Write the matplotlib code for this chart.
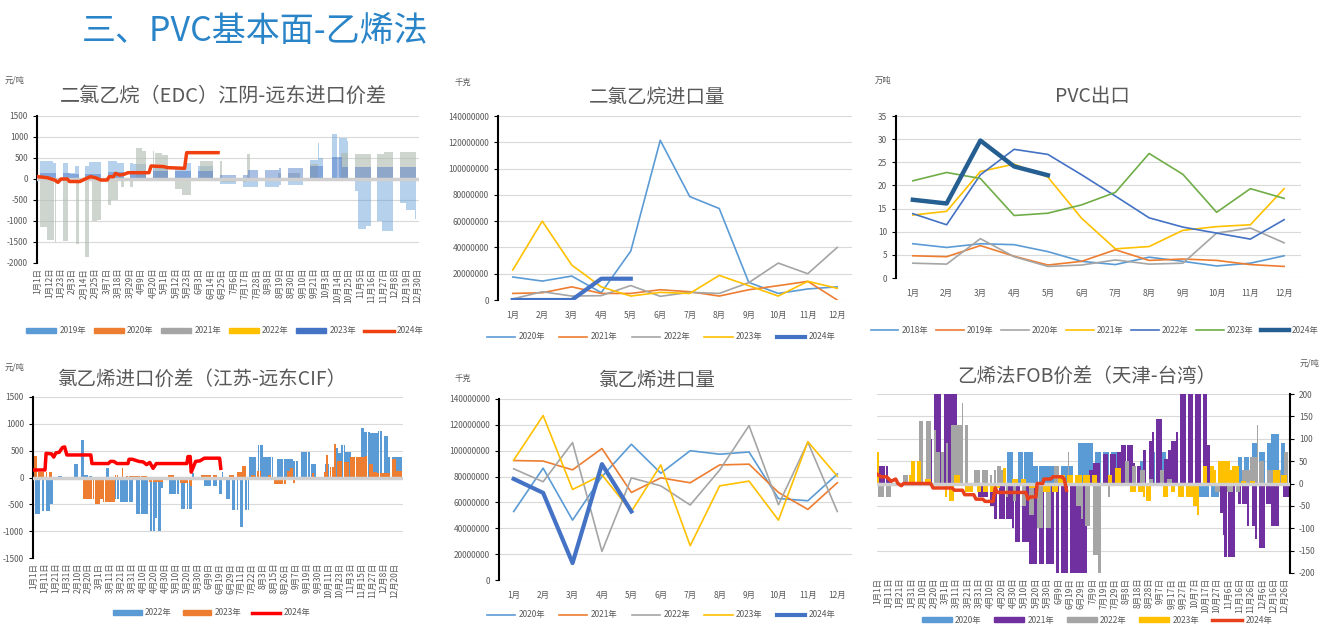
import numpy as np
import matplotlib.pyplot as plt
from matplotlib.patches import Patch
from matplotlib.lines import Line2D
from matplotlib.ticker import FuncFormatter

plt.rcParams['font.family'] = ['Noto Sans CJK SC', 'DejaVu Sans']
plt.rcParams['axes.unicode_minus'] = False

W, H = 1321, 631
GRAY_TXT = '#595959'
months = [f'{m}月' for m in range(1, 13)]

# ---------------- 数据 ----------------
# 二氯乙烷（EDC）江阴-远东进口价差, 日度 (起始日, 结束日, 值)
edc_labels = ['1月1日', '1月12日', '1月23日', '2月3日', '2月14日', '2月25日', '3月7日', '3月18日',
              '3月29日', '4月9日', '4月20日', '5月1日', '5月12日', '5月23日', '6月3日', '6月14日',
              '6月25日', '7月6日', '7月17日', '7月28日', '8月8日', '8月19日', '8月30日', '9月10日',
              '9月21日', '10月3日', '10月14日', '10月25日', '11月5日', '11月16日', '11月27日',
              '12月8日', '12月19日', '12月30日']
edc_2019 = [(0, 14, 420), (15, 28, 380), (29, 35, 150), (36, 48, 300), (49, 60, 400), (61, 75, 420),
            (76, 90, 380), (91, 110, 350), (111, 130, 300), (131, 140, 250), (141, 150, 380),
            (151, 172, 300), (173, 193, -120), (194, 195, -320), (196, 230, -180), (231, 253, -150),
            (254, 267, 450), (268, 268, 860), (269, 272, 500), (278, 285, 1080), (288, 295, 980),
            (296, 300, 900), (301, 305, -290), (306, 313, -1200), (314, 320, -1130), (321, 328, -1000),
            (329, 339, -1250), (341, 351, -580), (352, 360, -750), (361, 363, -950)]
edc_2021 = [(2, 8, -1150), (9, 15, -1450), (17, 22, -1500), (23, 28, -1480), (37, 44, -1550),
            (45, 48, -1850), (52, 56, -1000), (57, 62, -980), (64, 69, -620), (70, 76, -500),
            (80, 90, -200), (94, 99, 730), (100, 110, 660), (112, 118, 610), (119, 126, 570),
            (130, 137, -250), (138, 146, -380), (155, 175, 420), (176, 199, -80), (200, 202, 600),
            (230, 250, 150), (256, 267, 350), (290, 300, 620), (301, 330, 600), (331, 363, 650)]
edc_2023 = [(0, 30, 150), (31, 60, 120), (61, 90, 160), (91, 142, 180), (143, 172, 200),
            (173, 200, 100), (201, 230, 220), (231, 255, 250), (256, 272, 300), (278, 290, 520),
            (291, 363, 280)]
edc_2024_day = [0, 9, 16, 19, 22, 28, 30, 40, 45, 50, 55, 60, 66, 68, 72, 74, 78, 82, 86, 106, 108,
                120, 124, 140, 142, 172]
edc_2024_val = [55, 30, -25, -80, 0, 0, -60, -60, 0, 55, 30, -25, -25, 55, 55, 135, 95, 110, 150,
                150, 310, 295, 270, 254, 627, 627]

# 二氯乙烷进口量 (千克)
edc_imp_2020 = [17500000, 14400000, 18200000, 5600000, 37200000, 121500000, 78700000, 69600000,
                13400000, 5000000, 8400000, 10000000]
edc_imp_2021 = [5000000, 5500000, 10000000, 5000000, 5000000, 7800000, 6300000, 3000000, 7800000,
                10900000, 14200000, 0]
edc_imp_2022 = [800000, 6300000, 3000000, 3300000, 11000000, 2800000, 5800000, 5000000, 13200000,
                28100000, 20000000, 40000000]
edc_imp_2023 = [22800000, 60000000, 26600000, 10000000, 3000000, 5800000, 5000000, 18700000,
                10900000, 3000000, 14200000, 8900000]
edc_imp_2024 = [0, 0, 0, 16200000, 16200000]

# PVC出口 (万吨)
pvc_2018 = [7.4, 6.6, 7.4, 7.2, 5.7, 3.6, 2.9, 4.5, 3.6, 2.6, 3.2, 4.8]
pvc_2019 = [4.8, 4.6, 7.0, 4.7, 2.8, 3.6, 6.1, 3.8, 4.1, 3.8, 2.9, 2.5]
pvc_2020 = [3.2, 3.0, 8.5, 4.6, 2.5, 2.8, 3.9, 3.0, 3.2, 9.7, 10.8, 7.6]
pvc_2021 = [13.6, 14.4, 23.0, 24.6, 21.8, 12.9, 6.3, 6.8, 10.3, 11.1, 11.5, 19.3]
pvc_2022 = [13.9, 11.5, 22.3, 27.8, 26.7, 22.3, 17.7, 13.0, 11.0, 9.7, 8.4, 12.6]
pvc_2023 = [21.0, 22.8, 21.5, 13.5, 14.0, 15.8, 18.5, 26.9, 22.4, 14.2, 19.3, 17.2]
pvc_2024 = [16.9, 16.1, 29.7, 24.1, 22.2]

# 氯乙烯进口价差（江苏-远东CIF）, 按数据序号 (起始, 结束, 值)
vcm_labels = ['1月1日', '1月11日', '1月21日', '1月31日', '2月10日', '2月20日', '3月1日', '3月11日',
              '3月21日', '3月31日', '4月10日', '4月20日', '4月30日', '5月10日', '5月20日', '5月30日',
              '6月9日', '6月19日', '6月29日', '7月11日', '7月22日', '8月3日', '8月15日', '8月26日',
              '9月7日', '9月19日', '9月30日', '10月11日', '10月23日', '11月3日', '11月15日',
              '11月27日', '12月8日', '12月20日']
vcm_2022 = [(1, 5, -680), (8, 14, -620), (15, 17, -500), (22, 25, 30), (37, 40, 250), (43, 45, 700),
            (46, 49, 50), (51, 53, 30), (66, 68, 170), (74, 77, -400), (79, 90, -450), (94, 104, -680),
            (107, 110, -1000), (111, 112, -750), (114, 116, -1000), (117, 118, -200), (124, 132, -300),
            (135, 138, -580), (141, 144, -580), (145, 146, 80), (149, 152, -50), (156, 167, -150),
            (170, 172, -300), (173, 174, 100), (176, 179, -400), (182, 186, -600), (189, 191, -920),
            (194, 196, -600), (197, 203, 380), (206, 209, 600), (210, 218, 380), (223, 237, 350),
            (238, 241, 300), (245, 252, 480), (254, 258, 250), (267, 270, 250), (275, 278, 550),
            (279, 281, 450), (282, 284, 600), (285, 290, 470), (292, 298, 380), (300, 302, 920),
            (303, 307, 850), (308, 315, 830), (316, 318, 870), (321, 324, 780), (325, 338, 380)]
vcm_2023 = [(0, 2, 400), (4, 11, 100), (14, 16, 100), (35, 37, -50), (45, 54, -400), (56, 60, -500),
            (61, 63, -400), (64, 74, -450), (75, 76, 50), (81, 81, 180), (85, 103, 20), (106, 118, -80),
            (123, 128, 50), (134, 142, -100), (143, 144, -150), (152, 167, 40), (179, 183, 50),
            (186, 190, 100), (191, 194, 220), (195, 196, -50), (199, 202, 50), (205, 207, 130),
            (215, 217, 40), (220, 230, -130), (232, 234, 120), (235, 237, 170), (238, 239, -100),
            (255, 256, 80), (266, 267, 100), (268, 269, 420), (272, 274, 200), (275, 276, 620),
            (278, 282, 300), (284, 288, 280), (290, 303, 380), (304, 305, 400), (307, 310, 250),
            (311, 314, 100), (315, 327, 80), (328, 331, 350), (332, 338, 130)]
vcm_2024_idx = [0, 10, 11, 16, 18, 20, 23, 26, 28, 30, 52, 53, 68, 70, 73, 76, 78, 86, 87, 90, 96,
                100, 103, 106, 109, 112, 140, 141, 143, 144, 146, 148, 152, 156, 170, 171]
vcm_2024_val = [140, 140, 450, 440, 380, 460, 470, 560, 570, 420, 420, 260, 260, 300, 300, 260, 260,
                260, 340, 340, 300, 290, 240, 280, 170, 260, 260, 390, 390, 100, 200, 300, 310, 360,
                360, 170]

# 氯乙烯进口量 (千克)
vcm_imp_2020 = [53000000, 86500000, 46300000, 80000000, 105000000, 82600000, 100000000, 97300000,
                99000000, 63000000, 61300000, 82000000]
vcm_imp_2021 = [92400000, 92000000, 85200000, 101700000, 67700000, 79000000, 75200000, 89000000,
                89600000, 67700000, 54600000, 75200000]
vcm_imp_2022 = [86000000, 76000000, 106300000, 22100000, 79000000, 72800000, 58000000, 85000000,
                119400000, 58200000, 106600000, 53000000]
vcm_imp_2023 = [92700000, 127200000, 70000000, 81300000, 53000000, 89000000, 26500000, 72800000,
                76500000, 46300000, 107000000, 80300000]
vcm_imp_2024 = [78200000, 67400000, 13100000, 89600000, 53000000]

# 乙烯法FOB价差（天津-台湾）, 日度 (起始日, 结束日, 值)
fob_labels = ['1月1日', '1月11日', '1月21日', '1月31日', '2月10日', '2月20日', '3月1日', '3月11日',
              '3月21日', '3月31日', '4月10日', '4月20日', '4月30日', '5月10日', '5月20日', '5月30日',
              '6月9日', '6月19日', '6月29日', '7月9日', '7月19日', '7月29日', '8月8日', '8月18日',
              '8月28日', '9月7日', '9月17日', '9月27日', '10月7日', '10月17日', '10月27日', '11月6日',
              '11月16日', '11月26日', '12月6日', '12月16日', '12月26日']
fob_2020 = [(1, 5, 25), (115, 119, 70), (125, 128, 70), (130, 137, 70), (138, 141, 40), (143, 149, 40),
            (150, 155, 40), (156, 160, 40), (163, 172, 40), (178, 184, 90), (185, 190, 90),
            (193, 197, 70), (200, 204, 70), (207, 213, 70), (216, 219, 60), (222, 228, 30),
            (232, 235, 50), (242, 245, 70), (251, 254, 70), (262, 265, 20), (281, 292, -30),
            (295, 301, -30), (311, 315, 20), (319, 322, 60), (324, 328, 60), (331, 335, 90),
            (338, 342, 70), (345, 347, 90), (348, 354, 110), (357, 360, 90)]
fob_2021 = [(2, 6, 40), (8, 9, 40), (10, 12, 10), (48, 48, 100), (50, 56, 210), (59, 64, 210),
            (65, 70, 210), (89, 92, -30), (93, 97, -30), (100, 102, -50), (103, 105, -80),
            (108, 112, -80), (114, 118, -80), (119, 120, -100), (122, 125, -130), (128, 133, -130),
            (134, 140, -180), (143, 147, -180), (149, 155, -180), (158, 160, -200), (163, 168, -200),
            (171, 177, -210), (178, 185, -210), (187, 190, 30), (191, 196, 45), (200, 203, 65),
            (206, 210, 65), (212, 215, 70), (216, 219, 85), (221, 225, 85), (226, 227, 45),
            (230, 232, 40), (235, 237, 75), (240, 242, 95), (243, 244, 115), (247, 251, 145),
            (254, 256, 55), (257, 259, 75), (260, 263, 95), (264, 265, 115), (268, 272, 210),
            (275, 278, 210), (281, 285, 210), (288, 291, 210), (292, 293, 85), (303, 305, -65),
            (306, 306, -115), (307, 308, -165), (310, 315, -165), (319, 321, -45), (323, 326, -45),
            (327, 328, -95), (331, 333, -95), (334, 335, -125), (338, 342, -145), (344, 347, -45),
            (348, 350, -95), (351, 354, -95), (359, 363, -30)]
fob_2022 = [(1, 5, -30), (8, 11, -30), (23, 26, 20), (37, 40, 140), (43, 47, 140), (50, 51, 120),
            (52, 55, 70), (57, 58, 70), (61, 62, 90), (65, 70, 130), (71, 74, 130), (75, 75, 180),
            (78, 79, 130), (86, 90, 30), (93, 97, 30), (100, 101, 20), (103, 104, 30), (106, 109, 40),
            (110, 113, 30), (114, 115, -30), (120, 122, -40), (128, 131, -50), (134, 138, -70),
            (141, 146, -100), (149, 153, -100), (156, 160, 40), (169, 169, 70), (176, 179, -50),
            (180, 181, -80), (184, 187, -95), (191, 194, -160), (195, 197, -200), (204, 205, -30),
            (219, 222, 50), (225, 228, 40), (232, 236, 30), (240, 243, 10), (250, 253, 30),
            (256, 260, 10), (299, 302, -20), (309, 314, -20), (317, 320, -20), (323, 329, 30),
            (330, 335, 60), (336, 336, 130), (338, 341, 50), (345, 349, 30), (353, 356, 30),
            (360, 362, 70)]
fob_2023 = [(0, 1, 70), (28, 29, 20), (30, 33, 50), (35, 38, 50), (42, 47, 10), (60, 61, -30),
            (64, 67, -40), (68, 72, 20), (78, 84, -20), (88, 91, -20), (94, 97, -20), (100, 103, -20),
            (105, 108, -10), (111, 113, 35), (119, 124, 10), (127, 131, 10), (134, 139, -10),
            (147, 152, -20), (155, 159, -20), (160, 165, 20), (168, 172, 20), (175, 180, 20),
            (182, 187, 20), (190, 193, 20), (197, 198, -5), (204, 207, 20), (210, 215, 35),
            (219, 221, -5), (224, 228, -20), (231, 234, -20), (235, 236, -30), (238, 241, -40),
            (247, 248, -5), (253, 256, -30), (260, 262, -20), (266, 270, -30), (273, 278, -30),
            (279, 282, -50), (283, 284, -70), (288, 291, 40), (294, 297, 40), (298, 299, 30),
            (301, 306, 50), (307, 311, 50), (312, 313, 30), (314, 319, 40), (322, 325, 5),
            (330, 333, 5), (350, 355, 30), (357, 361, 20)]
fob_2024_day = [0, 3, 8, 12, 16, 18, 21, 23, 47, 49, 66, 68, 75, 77, 85, 87, 93, 95, 102, 104, 106,
                131, 133, 135, 140, 141, 146, 147, 153, 155, 163, 165, 167]
fob_2024_val = [20, 15, 15, 5, 10, 0, -5, 0, 0, -10, -10, -15, -15, -25, -25, -35, -35, -40, -40,
                -10, -20, -20, -35, -30, -30, 0, 0, 10, 10, 15, 15, 10, -15]


# ---------------- 工具 ----------------
def box(x0, y0, x1, y1):
    return [x0 / W, 1 - y1 / H, (x1 - x0) / W, (y1 - y0) / H]


def fxy(x, y):
    return (x / W, 1 - y / H)


def expand(runs, n):
    arr = np.full(n, np.nan)
    for a, b, v in runs:
        arr[a:b + 1] = v
    return arr


def base_style(ax, side='left'):
    ax.grid(axis='y', color='#D9D9D9', lw=0.8)
    ax.set_axisbelow(True)
    for s in ['top', 'right', 'bottom', 'left']:
        ax.spines[s].set_visible(False)
    ax.spines[side].set_visible(True)
    ax.spines[side].set_color('black')
    ax.spines[side].set_linewidth(1.5)
    ax.tick_params(axis='both', labelsize=6, colors=GRAY_TXT, length=0)
    ax.tick_params(axis='y', length=3, color='black', direction='out')
    if side == 'right':
        ax.yaxis.tick_right()


def add_legend(handles, labels, pos, hlen, cspace):
    fig.legend(handles, labels, loc='center', bbox_to_anchor=fxy(*pos), ncol=len(labels),
               frameon=False, fontsize=6, handlelength=hlen, handleheight=0.6,
               columnspacing=cspace, handletextpad=0.4, labelcolor=GRAY_TXT)


fig = plt.figure(figsize=(W / 100, H / 100), dpi=100)
fig.text(*fxy(82, 31), '三、PVC基本面-乙烯法', fontsize=24.5, color='#2A84C8', va='center', ha='left')

c19, c20, c21, c22, c23 = '#5B9BD5', '#ED7D31', '#A5A5A5', '#FFC000', '#4472C4'

# ---------- 图1 ----------
ax1 = fig.add_axes(box(37, 116, 419, 263))
base_style(ax1)
days = np.arange(364)
ax1.bar(days, expand(edc_2019, 364), width=0.7, color=c19, alpha=0.45, lw=0)
ax1.bar(days, expand(edc_2021, 364), width=0.7, color='#AEB8AE', alpha=0.6, lw=0)
ax1.bar(days, expand(edc_2023, 364), width=0.7, color=c23, alpha=0.45, lw=0)
ax1.axhline(0, color='#D0D0D0', lw=2.5, zorder=3)
ax1.plot(edc_2024_day, edc_2024_val, color='#F0400F', lw=2.5, zorder=4)
ax1.set_ylim(-2000, 1500)
ax1.set_yticks(range(-2000, 1501, 500))
ax1.set_xlim(-1, 364)
ax1.set_xticks(range(0, 364, 11))
ax1.set_xticklabels(edc_labels, rotation=90, fontsize=6)
fig.text(*fxy(5, 80), '元/吨', fontsize=6, color=GRAY_TXT, va='center')
fig.text(*fxy(223, 96), '二氯乙烷（EDC）江阴-远东进口价差', fontsize=14.5, color=GRAY_TXT,
         ha='center', va='center')
add_legend([Patch(color=c19), Patch(color=c20), Patch(color=c21), Patch(color=c22), Patch(color=c23),
            Line2D([], [], color='#F0400F', lw=2.5)],
           ['2019年', '2020年', '2021年', '2022年', '2023年', '2024年'], (225, 331), 3.6, 0.9)


# ---------- 折线图 ----------
def line_panel(rect, series, labels, colors, widths, ylim, ystep, title, tpos, unit, upos, lpos,
               big, hlen, cspace):
    ax = fig.add_axes(box(*rect))
    base_style(ax)
    for s, c, lw in zip(series, colors, widths):
        ax.plot(range(len(s)), s, color=c, lw=lw)
    ax.set_xlim(-0.5, 11.5)
    ax.set_xticks(range(12))
    ax.set_xticklabels(months)
    ax.set_ylim(0, ylim)
    ax.set_yticks(np.arange(0, ylim + ystep / 2, ystep))
    if big:
        ax.yaxis.set_major_formatter(FuncFormatter(lambda v, p: f'{int(v)}'))
    ax.tick_params(axis='x', pad=8)
    fig.text(*fxy(*upos), unit, fontsize=6, color=GRAY_TXT, va='center')
    fig.text(*fxy(*tpos), title, fontsize=14, color=GRAY_TXT, ha='center', va='center')
    add_legend([Line2D([], [], color=c, lw=lw) for c, lw in zip(colors, widths)], labels, lpos,
               hlen, cspace)
    return ax


line_panel((498, 116, 852, 300),
           [edc_imp_2020, edc_imp_2021, edc_imp_2022, edc_imp_2023, edc_imp_2024],
           ['2020年', '2021年', '2022年', '2023年', '2024年'],
           [c19, c20, c21, c22, c23], [1.2, 1.2, 1.2, 1.2, 3],
           140000000, 20000000, '二氯乙烷进口量', (657, 97), '千克', (455, 82), (661, 337), True,
           3.4, 1.7)

line_panel((896, 116, 1301, 278),
           [pvc_2018, pvc_2019, pvc_2020, pvc_2021, pvc_2022, pvc_2023, pvc_2024],
           ['2018年', '2019年', '2020年', '2021年', '2022年', '2023年', '2024年'],
           [c19, c20, c21, c22, c23, '#70AD47', '#255E91'], [1.2] * 6 + [3.2],
           35, 5, 'PVC出口', (1092, 97), '万吨', (875, 80), (1095, 330), False, 3.3, 0.9)

line_panel((499, 399, 852, 580),
           [vcm_imp_2020, vcm_imp_2021, vcm_imp_2022, vcm_imp_2023, vcm_imp_2024],
           ['2020年', '2021年', '2022年', '2023年', '2024年'],
           [c19, c20, c21, c22, c23], [1.2, 1.2, 1.2, 1.2, 3],
           140000000, 20000000, '氯乙烯进口量', (657, 381), '千克', (455, 378), (661, 615), True,
           3.4, 1.7)

# ---------- 图4 ----------
ax4 = fig.add_axes(box(33, 397, 403, 558))
base_style(ax4)
idx = np.arange(339)
ax4.bar(idx, expand(vcm_2022, 339), width=0.9, color=c19, lw=0)
ax4.bar(idx, expand(vcm_2023, 339), width=0.9, color=c20, lw=0)
ax4.axhline(0, color='#D0D0D0', lw=2.5, zorder=3)
ax4.plot(vcm_2024_idx, vcm_2024_val, color='#FF0000', lw=2.5, zorder=4)
ax4.set_ylim(-1500, 1500)
ax4.set_yticks(range(-1500, 1501, 500))
ax4.set_xlim(-1, 338)
ax4.set_xticks(range(0, 331, 10))
ax4.set_xticklabels(vcm_labels, rotation=90, fontsize=6)
fig.text(*fxy(5, 367), '元/吨', fontsize=6, color=GRAY_TXT, va='center')
fig.text(*fxy(203, 379), '氯乙烯进口价差（江苏-远东CIF）', fontsize=14, color=GRAY_TXT,
         ha='center', va='center')
add_legend([Patch(color=c19), Patch(color=c20), Line2D([], [], color='#FF0000', lw=2.5)],
           ['2022年', '2023年', '2024年'], (212, 613), 3.4, 1.3)

# ---------- 图6 ----------
ax6 = fig.add_axes(box(877, 394, 1290, 573))
base_style(ax6, side='right')
d6 = np.arange(365)
ax6.bar(d6, expand(fob_2020, 365), width=1.0, color=c19, lw=0)
ax6.bar(d6, expand(fob_2021, 365), width=1.0, color='#7030A0', lw=0)
ax6.bar(d6, expand(fob_2022, 365), width=1.0, color=c21, lw=0)
ax6.bar(d6, expand(fob_2023, 365), width=1.0, color=c22, lw=0)
ax6.axhline(0, color='#D0D0D0', lw=2.5, zorder=3)
ax6.plot(fob_2024_day, fob_2024_val, color='#E8401C', lw=2.5, zorder=4)
ax6.set_ylim(-200, 200)
ax6.set_yticks(range(-200, 201, 50))
ax6.set_xlim(-0.5, 364.5)
ax6.set_xticks(range(0, 361, 10))
ax6.set_xticklabels(fob_labels, rotation=90, fontsize=6)
fig.text(*fxy(1300, 363), '元/吨', fontsize=6, color=GRAY_TXT, va='center')
fig.text(*fxy(1087, 376), '乙烯法FOB价差（天津-台湾）', fontsize=14, color=GRAY_TXT,
         ha='center', va='center')
add_legend([Patch(color=c19), Patch(color='#7030A0'), Patch(color=c21), Patch(color=c22),
            Line2D([], [], color='#E8401C', lw=2.5)],
           ['2020年', '2021年', '2022年', '2023年', '2024年'], (1097, 620), 3.6, 1.5)

fig.savefig('out.png', dpi=100)
